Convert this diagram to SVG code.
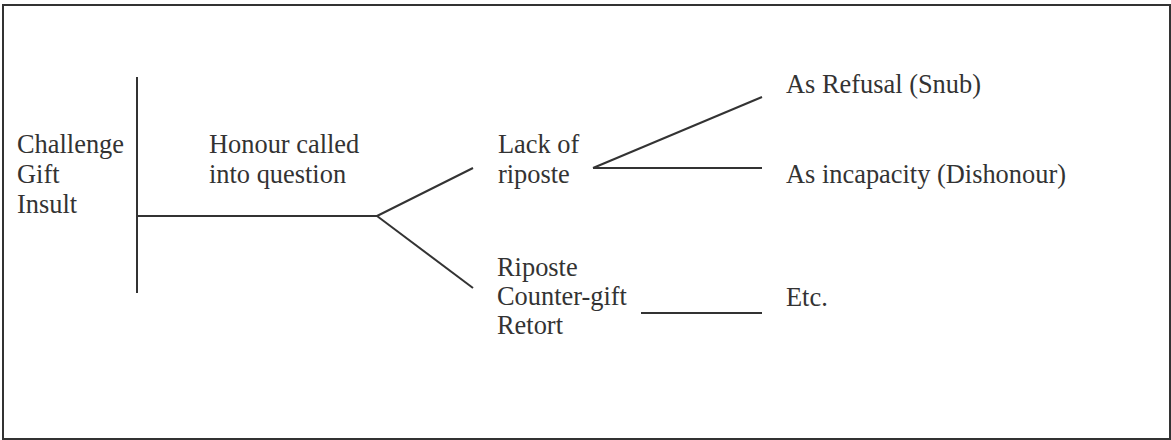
<svg xmlns="http://www.w3.org/2000/svg" width="1171" height="440" viewBox="0 0 1171 440">
<style>
text{font-family:"Liberation Serif","Times New Roman",serif;font-size:26.4px;fill:#333}
.ln{stroke:#333;stroke-width:2;fill:none}
</style>
<rect x="3" y="5" width="1167" height="434" fill="#fff" stroke="#333" stroke-width="2"/>
<g id="connectors">
<line class="ln" x1="137" y1="77" x2="137" y2="293"/>
<line class="ln" x1="137" y1="216" x2="377" y2="216"/>
<line class="ln" x1="377" y1="216" x2="473" y2="168"/>
<line class="ln" x1="377" y1="216" x2="473" y2="288"/>
<line class="ln" x1="593" y1="168" x2="762" y2="97"/>
<line class="ln" x1="593" y1="168" x2="762" y2="168"/>
<line class="ln" x1="641" y1="313" x2="762" y2="313"/>
</g>
<g id="challenge"><text x="17" y="153">Challenge</text><text x="17" y="183">Gift</text><text x="17" y="213">Insult</text></g>
<g id="honour"><text x="209" y="153">Honour called</text><text x="209" y="183">into question</text></g>
<g id="lack"><text x="498" y="153">Lack of</text><text x="498" y="183">riposte</text></g>
<g id="riposte"><text x="497" y="276">Riposte</text><text x="497" y="305">Counter-gift</text><text x="497" y="334">Retort</text></g>
<g id="refusal"><text x="786" y="93">As Refusal (Snub)</text></g>
<g id="incapacity"><text x="786" y="183">As incapacity (Dishonour)</text></g>
<g id="etc"><text x="786" y="306">Etc.</text></g>
</svg>
